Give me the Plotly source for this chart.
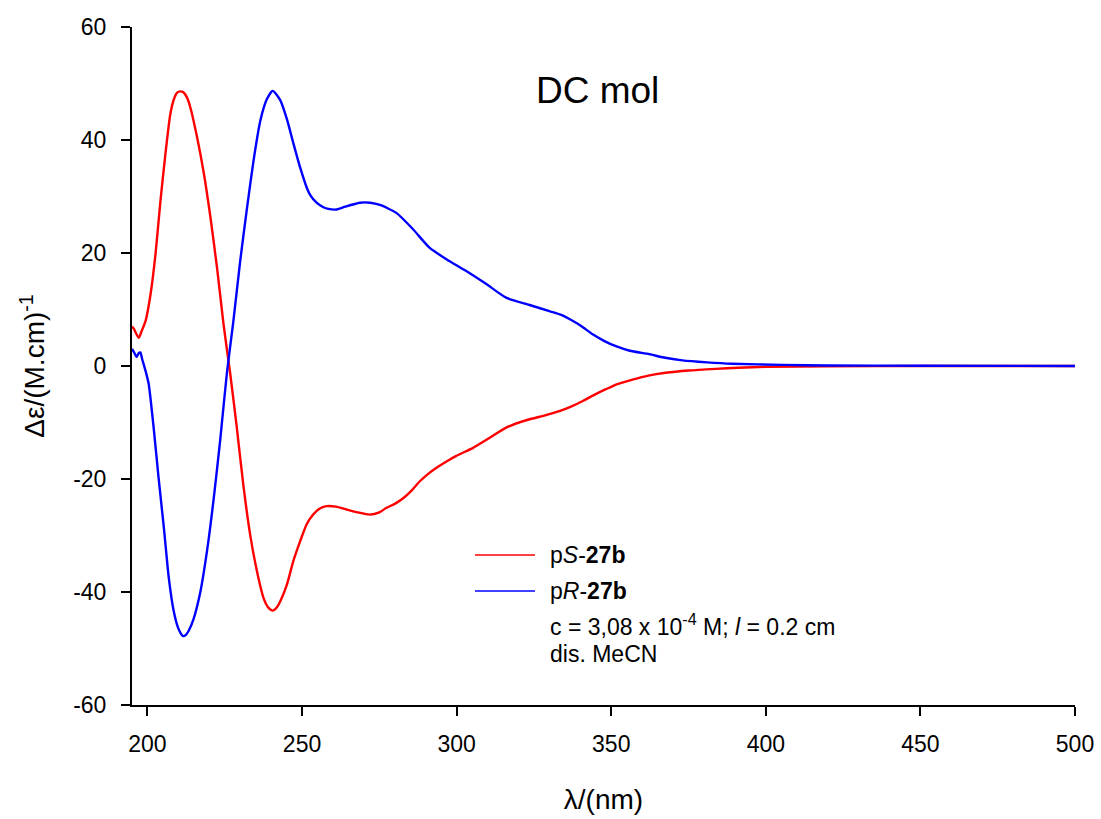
import plotly.graph_objects as go

# ---- data ----
wl_S = [195, 195.6, 196.3, 197.2, 198.2, 199.4, 201, 202.6, 204.2, 205.8, 207.4, 208.6,
        209.6, 210.6, 211.7, 212.8, 213.9, 216, 218.2, 220.3, 222.5, 224.6, 226.8, 228.9,
        231, 233.2, 235.4, 237.5, 239, 240.5, 242, 243, 245.1, 247.2, 249.4, 251.5, 253.6,
        255.5, 257.9, 261, 264.4, 268, 271.9, 275, 277.3, 280, 282.7, 285.5, 288.1, 291,
        293.5, 297, 299.9, 305.3, 310.7, 316, 322.5, 328.9, 333.2, 337, 340.8, 344.5, 348.3,
        352, 356.9, 362, 367.6, 375, 383.8, 391, 400, 420, 450, 500]
de_S = [7.0, 6.6, 5.8, 5.0, 6.3, 8.0, 12.7, 19.8, 29.2, 37.5, 44.6, 47.3,
        48.4, 48.6, 48.4, 47.5, 45.7, 40.6, 34.2, 26.6, 17.4, 7.4, -1.5, -10.9,
        -21.0, -29.8, -36.3, -41.0, -42.7, -43.3, -42.6, -41.6, -38.7, -34.5, -31.0, -28.0, -26.3,
        -25.3, -24.8, -24.9, -25.4, -25.9, -26.3, -25.9, -25.1, -24.4, -23.4, -22.0, -20.4, -19.0,
        -18.0, -16.8, -15.9, -14.5, -12.7, -10.9, -9.6, -8.7, -8.0, -7.2, -6.2, -5.1, -4.1,
        -3.2, -2.4, -1.7, -1.2, -0.8, -0.5, -0.3, -0.15, -0.05, 0.0, 0.0]

wl_R = [195, 195.5, 196.5, 197.2, 197.7, 198.3, 199.4, 200.4, 202, 203.6, 205.3, 206.9,
        208.5, 210.1, 211.5, 212.4, 213.3, 214.9, 217.1, 219.3, 221.4, 223.6, 225.7, 227.8,
        230, 232.2, 234.3, 236.5, 238.6, 240.5, 242.9, 245.1, 247.2, 249.4, 251.5, 252.6,
        254.7, 256.9, 258.5, 261.2, 264, 268.7, 272, 275.2, 280.5, 285.9, 291.3, 296.7,
        303.1, 309.6, 316, 323.6, 330, 334, 337.5, 340.5, 344, 347.5, 351.5, 356, 362.3,
        367, 373, 381, 389.1, 405.2, 420, 450, 500]
de_R = [3.0, 2.6, 1.6, 2.3, 2.4, 1.2, -0.9, -3.2, -10.9, -19.8, -28.6, -37.5,
        -43.4, -46.6, -47.8, -47.6, -46.9, -44.8, -40.0, -32.6, -23.6, -12.7, -1.2, 8.0,
        18.6, 28.0, 36.3, 43.4, 47.2, 48.7, 47.1, 43.7, 39.4, 35.1, 31.6, 30.3,
        28.9, 28.1, 27.8, 27.7, 28.2, 28.9, 28.9, 28.5, 27.1, 24.2, 20.9, 18.9,
        16.8, 14.5, 12.1, 10.8, 9.7, 9.0, 8.0, 7.0, 5.6, 4.5, 3.5, 2.7, 2.1,
        1.5, 1.0, 0.65, 0.4, 0.2, 0.1, 0.05, 0.0]

x_ticks = [200, 250, 300, 350, 400, 450, 500]
y_ticks = [-60, -40, -20, 0, 20, 40, 60]

series_names = ["p<i>S</i>-<b>27b</b>", "p<i>R</i>-<b>27b</b>"]
series_colors = ["#FF0000", "#0000FF"]
info_lines = ["c = 3,08 x 10<sup>-4</sup> M; <i>l</i> = 0.2 cm", "dis. MeCN"]
title_text = "DC mol"

FONT = "Liberation Sans, Arial, sans-serif"

fig = go.Figure()
for wl, de, name, col in [(wl_S, de_S, series_names[0], series_colors[0]),
                          (wl_R, de_R, series_names[1], series_colors[1])]:
    fig.add_trace(go.Scatter(x=wl, y=de, mode="lines", name=name,
                             line=dict(color=col, width=2.4, shape="spline", smoothing=0.6),
                             showlegend=False))

# plot area in pixels: left 132, right 1075, top 27, bottom 705
W, H = 1101, 819
L, R, T, B = 132, 1075, 27, 705


def px2paper(px, py):
    return (px - L) / (R - L), (B - py) / (B - T)


annotations = []
shapes = []
# legend built manually (line samples + labels)
leg_rows = [555, 591]
for i, (name, col) in enumerate(zip(series_names, series_colors)):
    x0, y0 = px2paper(475, leg_rows[i])
    x1, _ = px2paper(535, leg_rows[i])
    shapes.append(dict(type="line", xref="paper", yref="paper", x0=x0, x1=x1, y0=y0, y1=y0,
                       line=dict(color=col, width=1.5)))
    tx, ty = px2paper(548, leg_rows[i])
    annotations.append(dict(text=name, xref="paper", yref="paper", x=tx, y=ty,
                            xanchor="left", yanchor="middle", showarrow=False,
                            font=dict(size=23, color="black", family=FONT)))
info_rows = [625, 654]
for txt, row in zip(info_lines, info_rows):
    tx, ty = px2paper(548, row)
    annotations.append(dict(text=txt, xref="paper", yref="paper", x=tx, y=ty,
                            xanchor="left", yanchor="middle", showarrow=False,
                            font=dict(size=23, color="black", family=FONT)))

tx, ty = px2paper(597, 90)
annotations.append(dict(text=title_text, xref="paper", yref="paper", x=tx, y=ty,
                        xanchor="center", yanchor="middle", showarrow=False,
                        font=dict(size=37, color="black", family=FONT)))

fig.update_layout(
    width=W, height=H,
    margin=dict(l=L, r=W - R, t=T, b=H - B, autoexpand=False),
    paper_bgcolor="white", plot_bgcolor="white",
    font=dict(family=FONT, color="black", size=23),
    showlegend=False,
    annotations=annotations,
    shapes=shapes,
)
fig.update_xaxes(range=[195, 500], tickvals=x_ticks, ticktext=[str(v) for v in x_ticks],
                 ticks="outside", ticklen=9, tickwidth=1.5,
                 tickcolor="black", showline=True, linecolor="black", linewidth=2,
                 showgrid=False, zeroline=False, tickfont=dict(size=23), automargin=False,
                 ticklabelstandoff=8,
                 title=dict(text="λ/(nm)", font=dict(size=28), standoff=34))
fig.update_yaxes(range=[-60, 60], tickvals=y_ticks, ticktext=[str(v) for v in y_ticks],
                 ticks="outside", ticklen=9, tickwidth=1.5,
                 tickcolor="black", showline=True, linecolor="black", linewidth=2,
                 showgrid=False, zeroline=False, tickfont=dict(size=23), automargin=False,
                 ticklabelstandoff=10,
                 title=dict(text="Δε/(M.cm)<sup>-1</sup>", font=dict(size=28), standoff=20))

fig.write_html("out.html", config={"displayModeBar": False},
               post_script="document.body.style.margin='0';document.body.style.overflow='hidden';")
